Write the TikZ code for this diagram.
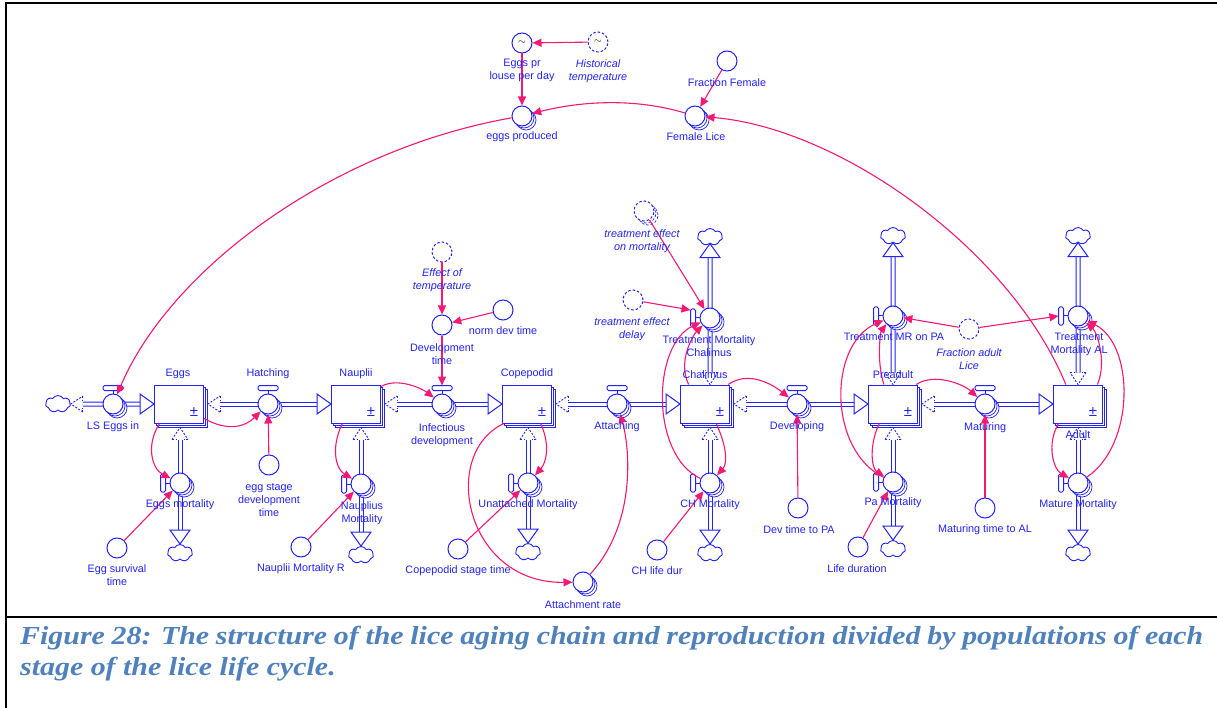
\documentclass[tikz,border=0pt]{standalone}
\usepackage{fontspec}
\setmainfont{Liberation Sans}
\newfontfamily\capfont[FakeStretch=1.15]{Liberation Serif}
\usetikzlibrary{shapes.symbols,shadows,arrows.meta}
\definecolor{fb}{RGB}{35,35,245}
\definecolor{cn}{RGB}{245,25,115}
\definecolor{capblue}{RGB}{79,129,189}
\newcommand\lblfont{\fontsize{10.8}{13}\selectfont}

% pipe of a flow: source anchor, target anchor, unit direction (dx,dy)
\newcommand\flowpipe[4]{%
  \draw[pipe] ([shift={({12*#3},{12*#4})}]#1) -- ([shift={({-14*#3},{-14*#4})}]#2);
  \draw[ghost] ([shift={({12*#3-8*#4},{12*#4+8*#3})}]#1) -- (#1) -- ([shift={({12*#3+8*#4},{12*#4-8*#3})}]#1);
  \draw[ghost] ([shift={({12*#3-8*#4},{12*#4+8*#3})}]#1) -- ([shift={({12*#3-3.5*#4},{12*#4+3.5*#3})}]#1);
  \draw[ghost] ([shift={({12*#3+8*#4},{12*#4-8*#3})}]#1) -- ([shift={({12*#3+3.5*#4},{12*#4-3.5*#3})}]#1);
  \draw[fhead] ([shift={({-14*#3-10*#4},{-14*#4+10*#3})}]#2) -- (#2) -- ([shift={({-14*#3+10*#4},{-14*#4-10*#3})}]#2) -- cycle;
}
% valve handles
\newcommand\handletop[1]{%
  \draw[flowline] (#1.north) -- ++(0,-3);
  \draw[flowline,fill=white,rounded corners=1.5pt] ([shift={(-10,-3)}]#1.north) rectangle ([shift={(10,-8)}]#1.north);}
\newcommand\handleleft[1]{%
  \draw[flowline] (#1.west) -- ++(-4,0);
  \draw[flowline,fill=white,rounded corners=1.5pt] ([shift={(-4,-9)}]#1.west) rectangle ([shift={(-9,9)}]#1.west);}

\begin{document}
\begin{tikzpicture}[x=1pt,y=-1pt,
  flowline/.style={draw=fb,line width=1pt},
  pipe/.style={draw=fb,line width=1pt,double=white,double distance=3pt},
  ghost/.style={draw=fb,line width=0.9pt,dash pattern=on 2pt off 1.5pt},
  fhead/.style={draw=fb,line width=1pt,fill=white,line join=miter},
  shadowed/.style={double copy shadow={shadow xshift=2pt,shadow yshift=-2pt,draw=fb,fill=white,line width=0.7pt}},
  stockbox/.style={rectangle,draw=fb,line width=1pt,fill=white,minimum width=49pt,minimum height=38pt,inner sep=0pt,shadowed},
  valve/.style={circle,draw=fb,line width=1pt,fill=white,minimum size=20pt,inner sep=0pt,shadowed},
  conv/.style={circle,draw=fb,line width=1pt,fill=white,minimum size=20pt,inner sep=0pt},
  ghostconv/.style={conv,dash pattern=on 2.5pt off 2pt},
  stacked/.style={shadowed},
  sink/.style={cloud,cloud puffs=7,cloud puff arc=120,aspect=1.5,draw=fb,line width=0.9pt,fill=white,minimum width=25pt,minimum height=17pt,inner sep=0pt},
  conn/.style={draw=cn,line width=1.1pt,-{Triangle[length=9pt,width=8pt]}},
  lbl/.style={text=fb,font=\lblfont,align=center,inner sep=0pt},
  ilbl/.style={lbl,font=\lblfont\itshape},
  pm/.style={text=fb,font=\fontsize{15}{15}\selectfont,inner sep=0pt}]

\useasboundingbox (0,0) rectangle (1217,708);
\fill[white] (0,0) rectangle (1217,708);

% frame
\draw[line width=2.5pt] (6,708) -- (6,3) -- (1217,3);
\draw[line width=2.5pt] (5,617) -- (1217,617);

% clouds
\node[sink] (LScloud) at (58,404) {};
\node[sink] (EggsCl) at (180,553) {};
\node[sink] (NaupCl) at (361,555) {};
\node[sink] (UnattCl) at (528,552) {};
\node[sink] (CHCl) at (710,553) {};
\node[sink] (PaCl) at (893,549) {};
\node[sink] (MatCl) at (1078,553) {};
\node[sink] (TrChCl) at (710,237) {};
\node[sink] (TrPACl) at (893,236) {};
\node[sink] (TrALCl) at (1078,236) {};

% stocks
\node[stockbox] (Eggs) at (179,404) {};
\node[stockbox] (Nauplii) at (356,404) {};
\node[stockbox] (Copepodid) at (527,404) {};
\node[stockbox] (Chalimus) at (705,404) {};
\node[stockbox] (Preadult) at (893,404) {};
\node[stockbox] (Adult) at (1078,404) {};

% pipe ends at the stocks
\coordinate (EggsR) at ([xshift=4pt]Eggs.east);
\coordinate (NaupR) at ([xshift=4pt]Nauplii.east);
\coordinate (CopR) at ([xshift=4pt]Copepodid.east);
\coordinate (ChR) at ([xshift=4pt]Chalimus.east);
\coordinate (PreR) at ([xshift=4pt]Preadult.east);
\coordinate (EggsB) at ([xshift=1pt,yshift=-4pt]Eggs.south);
\coordinate (NaupB) at ([xshift=5pt,yshift=-4pt]Nauplii.south);
\coordinate (CopB) at ([xshift=1pt,yshift=-4pt]Copepodid.south);
\coordinate (ChB) at ([xshift=5pt,yshift=-4pt]Chalimus.south);
\coordinate (PreB) at ([yshift=-4pt]Preadult.south);
\coordinate (AdB) at ([yshift=-4pt]Adult.south);
\coordinate (ChT) at ([xshift=5pt]Chalimus.north);
\coordinate (PreT) at (Preadult.north);
\coordinate (AdT) at (Adult.north);

% flow pipes
\flowpipe{LScloud.east}{Eggs.west}{1}{0}
\flowpipe{EggsR}{Nauplii.west}{1}{0}
\flowpipe{NaupR}{Copepodid.west}{1}{0}
\flowpipe{CopR}{Chalimus.west}{1}{0}
\flowpipe{ChR}{Preadult.west}{1}{0}
\flowpipe{PreR}{Adult.west}{1}{0}
\flowpipe{EggsB}{EggsCl.north}{0}{1}
\flowpipe{NaupB}{NaupCl.north}{0}{1}
\flowpipe{CopB}{UnattCl.north}{0}{1}
\flowpipe{ChB}{CHCl.north}{0}{1}
\flowpipe{PreB}{PaCl.north}{0}{1}
\flowpipe{AdB}{MatCl.north}{0}{1}
\flowpipe{ChT}{TrChCl.south}{0}{-1}
\flowpipe{PreT}{TrPACl.south}{0}{-1}
\flowpipe{AdT}{TrALCl.south}{0}{-1}

% valves
\node[valve] (LSin) at (113,404) {};
\node[valve] (Hatching) at (268,404) {};
\node[valve] (InfDev) at (442,404) {};
\node[valve] (Attaching) at (617,404) {};
\node[valve] (Developing) at (797,404) {};
\node[valve] (Maturing) at (985,404) {};
\foreach \v in {LSin,Hatching,InfDev,Attaching,Developing,Maturing} {\handletop{\v}}
\node[valve] (EggsMort) at (180,483) {};
\node[valve] (NaupMort) at (361,484) {};
\node[valve] (UnattMort) at (528,483) {};
\node[valve] (CHMort) at (710,483) {};
\node[valve] (PaMort) at (893,482) {};
\node[valve] (MatMort) at (1078,483) {};
\node[valve] (TrMortCh) at (710,318) {};
\node[valve] (TrMRPA) at (893,316) {};
\node[valve] (TrMortAL) at (1078,316) {};
\foreach \v in {EggsMort,NaupMort,UnattMort,CHMort,PaMort,MatMort,TrMortCh,TrMRPA,TrMortAL} {\handleleft{\v}}

% converters
\node[conv] (EggsPr) at (522,43) {$\sim$};
\node[ghostconv] (HistT) at (598,42) {$\sim$};
\node[conv,stacked] (EggsProd) at (522,116) {};
\node[conv] (FracF) at (727,61) {};
\node[conv,stacked] (FemLice) at (695,116) {};
\node[ghostconv] (EffT) at (442,252) {};
\node[conv] (DevT) at (442,325) {};
\node[conv] (NormDev) at (503,310) {};
\node[conv] (EggStage) at (269,465) {};
\node[conv] (EggSurv) at (117,548) {};
\node[conv] (NaupR) at (301,547) {};
\node[conv] (CopStage) at (458,549) {};
\node[conv,stacked] (AttRate) at (583,582) {};
\node[ghostconv,stacked] (TrEffMort) at (644,211) {};
\node[ghostconv] (TrEffDelay) at (633,300) {};
\node[conv] (CHlife) at (657,550) {};
\node[conv] (DevPA) at (798,508) {};
\node[conv] (LifeDur) at (858,547) {};
\node[conv] (MatAL) at (985,508) {};
\node[ghostconv] (FracAdult) at (969,329) {};

% connectors
\draw[conn] (HistT) -- (EggsPr);
\draw[conn] (EggsPr) -- (EggsProd);
\draw[conn] (FracF) -- (FemLice);
\draw[conn] (FemLice) .. controls +(-60,-18) and +(60,-15) .. (EggsProd);
\draw[conn] (Adult.122) .. controls +(-56,-136) and +(144,12) .. (FemLice);
\draw[conn] (EggsProd) .. controls +(-192,34) and +(57,-134) .. (LSin);
\draw[conn] (Eggs.-30) .. controls +(25,14) and +(-22,22) .. (Hatching);
\draw[conn] (EggStage) -- (Hatching);
\draw[conn] (Eggs.-135) .. controls +(-14,22) and +(-28,-14) .. (EggsMort);
\draw[conn] (EggSurv) -- (EggsMort);
\draw[conn] (Nauplii.35) .. controls +(18,-10) and +(-18,-14) .. (InfDev);
\draw[conn] (DevT) -- ([yshift=8pt]InfDev.north);
\draw[conn] (EffT) -- (DevT);
\draw[conn] (NormDev) -- (DevT);
\draw[conn] (Nauplii.-125) .. controls +(-12,25) and +(-25,-15) .. (NaupMort);
\draw[conn] (NaupR) -- (NaupMort);
\draw[conn] (Copepodid.-55) .. controls +(10,22) and +(18,-20) .. (UnattMort);
\draw[conn] (CopStage) -- (UnattMort);
\draw[conn] (Copepodid.-140) .. controls +(-65,31) and +(-117,2) .. (AttRate);
\draw[conn] (AttRate) .. controls +(55,-60) and +(12,40) .. (Attaching);
\draw[conn] (TrEffMort) -- (TrMortCh);
\draw[conn] (TrEffDelay) -- ([shift={(-9,-8)}]TrMortCh.west);
\draw[conn] (Chalimus.130) .. controls +(-12,-25) and +(-15,15) .. (TrMortCh);
\draw[conn] (CHMort) .. controls +(-60,-28) and +(-58,27) .. (TrMortCh);
\draw[conn] (Chalimus.-60) .. controls +(10,22) and +(18,-20) .. (CHMort);
\draw[conn] (CHlife) -- (CHMort);
\draw[conn] (Chalimus.40) .. controls +(20,-14) and +(-25,-20) .. (Developing);
\draw[conn] (DevPA) -- (Developing);
\draw[conn] (Preadult.115) .. controls +(-8,-25) and +(-12,15) .. (TrMRPA);
\draw[conn] (PaMort) .. controls +(-65,-32) and +(-65,29) .. (TrMRPA);
\draw[conn] (Preadult.-125) .. controls +(-10,20) and +(-22,-14) .. (PaMort);
\draw[conn] (LifeDur) -- (PaMort);
\draw[conn] (Preadult.40) .. controls +(18,-12) and +(-22,-20) .. (Maturing);
\draw[conn] (MatAL) -- (Maturing);
\draw[conn] (FracAdult) -- (TrMRPA);
\draw[conn] (FracAdult) -- ([xshift=-9pt]TrMortAL.west);
\draw[conn] (Adult.45) .. controls +(10,-25) and +(18,15) .. (TrMortAL);
\draw[conn] (MatMort) .. controls +(57,-38) and +(57,29) .. (TrMortAL);
\draw[conn] (Adult.-135) .. controls +(-12,20) and +(-25,-14) .. (MatMort);

% plus-minus marks of the stocks
\foreach \s in {Eggs,Nauplii,Copepodid,Chalimus,Preadult,Adult}
  {\node[pm] (pm\s) at ([shift={(-10,-11)}]\s.south east) {±};}

% labels
\node[lbl] (tEggs) at (178,374) {Eggs};
\node[lbl] (tNaup) at (356,374) {Nauplii};
\node[lbl] (tCop) at (527,374) {Copepodid};
\node[lbl] (tCh) at (705,375) {Chalimus};
\node[lbl] (tPre) at (893,375) {Preadult};
\node[lbl] (tAd) at (1078,435) {Adult};
\node[lbl] (tLS) at (113,427) {LS Eggs in};
\node[lbl] (tHat) at (268,374) {Hatching};
\node[lbl] (tInf) at (442,435.5) {Infectious\\development};
\node[lbl] (tAtt) at (617,427) {Attaching};
\node[lbl] (tDev) at (797,427) {Developing};
\node[lbl] (tMat) at (985,428) {Maturing};
\node[lbl] (tEM) at (180,505) {Eggs mortality};
\node[lbl] (tNM) at (362,513.5) {Nauplius\\Mortality};
\node[lbl] (tUM) at (528,505) {Unattached Mortality};
\node[lbl] (tCM) at (710,505) {CH Mortality};
\node[lbl] (tPM) at (893,503) {Pa Mortality};
\node[lbl] (tMM) at (1078,505) {Mature Mortality};
\node[lbl] (tTC) at (709,346) {Treatment Mortality\\Chalimus};
\node[lbl] (tTP) at (894,337) {Treatment MR on PA};
\node[lbl] (tTA) at (1079,344) {Treatment\\Mortality AL};
\node[lbl] (tEP) at (522,70.5) {Eggs pr\\louse per day};
\node[ilbl] (tHT) at (598,71) {Historical\\temperature};
\node[lbl] (tEPr) at (522,137) {eggs produced};
\node[lbl] (tFF) at (727,83) {Fraction Female};
\node[lbl] (tFL) at (696,137) {Female Lice};
\node[ilbl] (tET) at (442,280) {Effect of\\temperature};
\node[lbl] (tDT) at (442,354) {Development\\time};
\node[lbl] (tND) at (503,331) {norm dev time};
\node[lbl] (tES) at (269,500) {egg stage\\development\\time};
\node[lbl] (tESv) at (117,575.5) {Egg survival\\time};
\node[lbl] (tNR) at (301,569) {Nauplii Mortality R};
\node[lbl] (tCS) at (458,571) {Copepodid stage time};
\node[lbl] (tAR) at (583,605) {Attachment rate};
\node[ilbl] (tTEM) at (642,241) {treatment effect\\on mortality};
\node[ilbl] (tTED) at (632,329.5) {treatment effect\\delay};
\node[lbl] (tCL) at (657,571) {CH life dur};
\node[lbl] (tDP) at (799,530) {Dev time to PA};
\node[lbl] (tLD) at (857,569) {Life duration};
\node[lbl] (tMA) at (985,530) {Maturing time to AL};
\node[ilbl] (tFA) at (969,359) {Fraction adult\\Lice};

% caption
\node[anchor=north west,inner sep=0pt,text width=1183pt,align=justify,text=capblue,
      font={\capfont\bfseries\itshape\fontsize{26}{31}\selectfont}] (cap) at (20,626)
  {Figure 28: The structure of the lice aging chain and reproduction divided by populations of each\linebreak stage of the lice life cycle.};
\end{tikzpicture}
\end{document}
